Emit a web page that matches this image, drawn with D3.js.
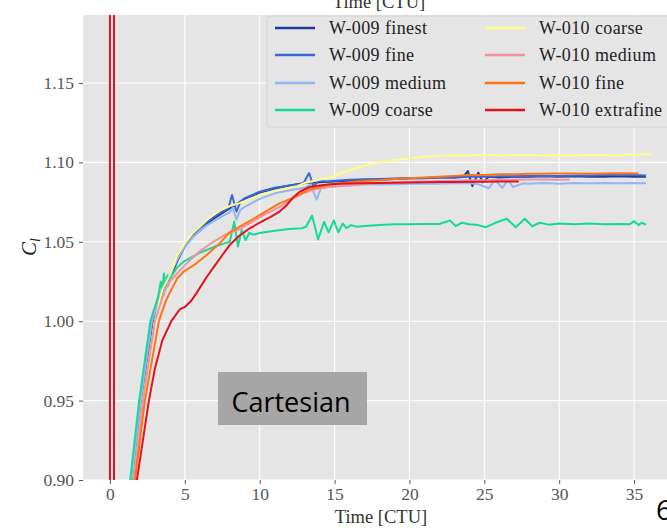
<!DOCTYPE html>
<html>
<head>
<meta charset="utf-8">
<script src="https://cdn.jsdelivr.net/npm/d3@7"></script>
<style>
  html, body { margin: 0; padding: 0; background: #ffffff; }
  svg { display: block; }
  .serif { font-family: "Liberation Serif", "DejaVu Serif", "Times New Roman", Times, serif; }
  .sans { font-family: "Open Sans", "Noto Sans", sans-serif; }
</style>
</head>
<body>
<svg id="chart" width="667" height="528"></svg>
<script>
// Lift coefficient histories, [time (CTU), Cl]
const w009Finest = [[1.5,0.90],[2.1,0.95],[2.85,1.00],[3.5,1.018],[4.0,1.027],[4.5,1.038],[5.0,1.047],[5.5,1.053],[6.0,1.057],[6.5,1.061],[7.0,1.065],[7.5,1.068],[8.0,1.071],[8.5,1.074],[9,1.077],[10,1.081],[11,1.0835],[12,1.0855],[13,1.087],[14,1.0875],[15,1.088],[16,1.0885],[17,1.089],[18,1.089],[19,1.0895],[20,1.090],[21,1.090],[22,1.0905],[23,1.0905],[23.6,1.091],[23.9,1.0945],[24.2,1.085],[24.6,1.0935],[24.9,1.0875],[25.3,1.091],[26,1.0905],[27,1.091],[28,1.091],[29,1.0912],[30,1.091],[31,1.0912],[32,1.091],[33,1.091],[34,1.0912],[35,1.091],[35.8,1.091]];
const w009Fine = [[1.5,0.90],[2.1,0.95],[2.85,1.00],[3.5,1.019],[4.0,1.029],[4.5,1.04],[5.0,1.048],[5.5,1.054],[6.0,1.0585],[6.5,1.0625],[7.0,1.066],[7.5,1.069],[7.9,1.071],[8.15,1.0795],[8.45,1.069],[8.7,1.075],[9,1.0775],[10,1.0815],[11,1.084],[12,1.0855],[12.9,1.0865],[13.3,1.0933],[13.6,1.0845],[13.9,1.0885],[14.5,1.088],[15,1.0885],[16,1.089],[17,1.0893],[18,1.0895],[19,1.0898],[20,1.090],[21,1.0902],[22,1.0905],[23,1.0905],[24,1.091],[25,1.091],[26,1.0912],[27,1.0912],[28,1.0915],[29,1.0915],[30,1.0915],[31,1.0917],[32,1.0917],[33,1.092],[34,1.092],[35,1.092],[35.8,1.0918]];
const w009Medium = [[1.45,0.90],[2.05,0.95],[2.8,1.00],[3.3,1.015],[3.5,1.024],[3.6,1.016],[3.75,1.028],[3.9,1.022],[4.1,1.031],[4.5,1.039],[5.0,1.047],[5.5,1.0525],[6.0,1.057],[6.5,1.0605],[7.0,1.0635],[7.5,1.066],[8.0,1.0685],[8.2,1.0715],[8.45,1.064],[8.7,1.070],[9,1.072],[10,1.077],[11,1.0805],[12,1.0825],[13,1.084],[13.4,1.086],[13.8,1.0765],[14.1,1.084],[15,1.085],[16,1.0855],[17,1.086],[18,1.086],[19,1.0862],[20,1.0865],[21,1.0865],[22,1.0865],[23,1.0868],[24,1.0868],[24.6,1.0862],[25.3,1.0837],[25.7,1.089],[26.2,1.084],[26.6,1.089],[26.9,1.0845],[27.6,1.0868],[28,1.0865],[29,1.087],[30,1.0865],[31,1.087],[32,1.0868],[33,1.087],[34,1.0868],[35,1.087],[35.8,1.0868]];
const w009Coarse = [[1.35,0.90],[1.95,0.95],[2.7,1.00],[3.2,1.015],[3.4,1.025],[3.5,1.018],[3.6,1.030],[3.7,1.021],[3.85,1.029],[4.0,1.027],[4.5,1.034],[5.0,1.038],[5.5,1.0405],[6.0,1.043],[6.5,1.045],[7.0,1.047],[7.5,1.0485],[8.0,1.050],[8.3,1.0627],[8.55,1.047],[8.8,1.0575],[9.05,1.051],[9.3,1.0555],[9.6,1.0545],[10,1.0555],[11,1.057],[12,1.058],[12.8,1.0585],[13.1,1.0595],[13.5,1.0665],[13.9,1.0515],[14.3,1.0625],[14.6,1.056],[14.95,1.0635],[15.25,1.056],[15.55,1.0615],[15.8,1.0585],[16.1,1.0605],[16.5,1.0595],[17,1.060],[18,1.0605],[19,1.061],[20,1.061],[21,1.0612],[22,1.0612],[22.7,1.0635],[23.1,1.0598],[23.5,1.062],[24,1.061],[24.6,1.0605],[25.1,1.0592],[25.7,1.0618],[26.5,1.0645],[27.1,1.0592],[27.7,1.0645],[28.2,1.0598],[28.7,1.062],[29.3,1.0608],[30,1.0615],[31,1.061],[32,1.0615],[33,1.061],[34,1.0612],[34.7,1.061],[35.0,1.063],[35.3,1.0605],[35.5,1.062],[35.8,1.0608]];
const w010Coarse = [[1.6,0.90],[2.2,0.95],[3.0,1.00],[3.5,1.02],[4.0,1.029],[4.5,1.0415],[5.0,1.049],[5.5,1.055],[6.0,1.0595],[6.5,1.064],[7.0,1.0675],[7.5,1.0705],[8.0,1.0725],[8.7,1.0745],[9.5,1.0775],[10.2,1.080],[11,1.082],[12,1.084],[12.5,1.085],[13,1.087],[14,1.089],[14.7,1.0905],[15.5,1.0935],[16,1.095],[17,1.098],[18,1.100],[19,1.1015],[20,1.1025],[21,1.1035],[22,1.104],[23,1.1045],[24,1.1043],[25,1.1047],[26,1.1043],[27,1.1045],[28,1.1047],[29,1.1043],[30,1.1045],[31,1.1043],[32,1.1047],[33,1.1045],[34,1.1042],[34.5,1.1052],[35,1.1045],[35.5,1.1052],[36.2,1.105]];
const w010Medium = [[1.6,0.90],[2.2,0.95],[3.0,1.00],[3.6,1.018],[4.0,1.025],[4.67,1.032],[5.3,1.038],[6.0,1.044],[6.9,1.050],[7.7,1.0545],[8.67,1.058],[9.5,1.0625],[10.3,1.067],[11.33,1.072],[12.1,1.0765],[12.9,1.0805],[13.7,1.083],[14.6,1.0845],[15.8,1.0855],[17,1.0864],[18,1.087],[19,1.0875],[20,1.0878],[21,1.088],[22,1.0883],[23,1.0885],[24,1.0887],[25,1.0888],[26,1.089],[27,1.089],[28,1.0892],[29,1.0892],[30,1.089],[30.7,1.0892]];
const w010Fine = [[1.67,0.90],[2.33,0.95],[3.27,1.00],[3.7,1.012],[4.0,1.018],[4.5,1.027],[4.9,1.031],[5.8,1.0366],[6.5,1.042],[7.33,1.049],[8.0,1.056],[8.67,1.0595],[9.5,1.064],[10.3,1.0685],[11.33,1.0742],[12.3,1.078],[13.33,1.083],[14.5,1.0855],[15.5,1.087],[16.5,1.088],[18,1.0888],[19,1.0895],[20,1.090],[21,1.0905],[22,1.091],[23,1.0915],[24,1.092],[25,1.092],[26,1.0925],[27,1.0925],[28,1.0928],[29,1.0928],[30,1.093],[31,1.093],[32,1.0928],[33,1.093],[34,1.0932],[35,1.093],[35.3,1.093]];
const w010Extrafine = [[0,0.5],[0,2.0],[0.27,2.0],[0.27,0.5],[1.8,0.90],[2.6,0.95],[3.0,0.97],[3.5,0.988],[4.1,1.00],[4.67,1.0075],[5.0,1.009],[5.4,1.0125],[5.8,1.018],[6.47,1.028],[7.0,1.035],[7.5,1.0415],[8.0,1.048],[8.6,1.0535],[9.33,1.0585],[10,1.062],[10.7,1.0655],[11.33,1.069],[11.8,1.073],[12.2,1.0775],[12.67,1.0815],[13.33,1.0845],[14,1.0855],[14.67,1.0862],[15.5,1.0866],[16.5,1.0868],[18,1.087],[19,1.0872],[20,1.0874],[21,1.0875],[22,1.0876],[23,1.0877],[24,1.0878],[25,1.0878],[26,1.088],[27.3,1.088]];

const seriesNames = ["W-009 finest","W-009 fine","W-009 medium","W-009 coarse","W-010 coarse","W-010 medium","W-010 fine","W-010 extrafine"];
const seriesData = [w009Finest, w009Fine, w009Medium, w009Coarse, w010Coarse, w010Medium, w010Fine, w010Extrafine];
const seriesColors = ["#1d3b9b","#3b67d8","#93b5f5","#17d89c","#fdfd88","#f4929c","#ff7414","#e2121f"];

const xTicks = [0,5,10,15,20,25,30,35];
const yTicks = [0.90,0.95,1.00,1.05,1.10,1.15];

const svg = d3.select("#chart");
const margin = {left: 83, top: 15, right: 676, bottom: 480};

const x = d3.scaleLinear().domain([-1.8, 37.8]).range([margin.left, margin.right]);
const y = d3.scaleLinear().domain([0.90, 1.1928]).range([margin.bottom, margin.top]);

// Plot panel background
svg.append("rect")
  .attr("x", margin.left).attr("y", margin.top)
  .attr("width", margin.right - margin.left)
  .attr("height", margin.bottom - margin.top)
  .attr("fill", "#e5e5e5");

svg.append("defs").append("clipPath").attr("id", "plotClip")
  .append("rect")
  .attr("x", margin.left).attr("y", margin.top)
  .attr("width", margin.right - margin.left)
  .attr("height", margin.bottom - margin.top);

// Grid
const grid = svg.append("g");
grid.selectAll(".gx").data(xTicks).enter().append("line")
  .attr("x1", d => x(d)).attr("x2", d => x(d))
  .attr("y1", margin.top).attr("y2", margin.bottom)
  .attr("stroke", "#ffffff").attr("stroke-width", 1.1);
grid.selectAll(".gy").data(yTicks).enter().append("line")
  .attr("x1", margin.left).attr("x2", margin.right)
  .attr("y1", d => y(d)).attr("y2", d => y(d))
  .attr("stroke", "#ffffff").attr("stroke-width", 1.1);

// Axes
const xAxis = svg.append("g")
  .attr("transform", `translate(0,${margin.bottom})`)
  .call(d3.axisBottom(x).tickValues(xTicks).tickFormat(d3.format("d")).tickSize(4).tickPadding(4));
const yAxis = svg.append("g")
  .attr("transform", `translate(${margin.left},0)`)
  .call(d3.axisLeft(y).tickValues(yTicks).tickFormat(d3.format(".2f")).tickSize(4).tickPadding(5));
[xAxis, yAxis].forEach(a => {
  a.attr("font-family", null).attr("font-size", null);
  a.select(".domain").remove();
  a.selectAll(".tick line").attr("stroke", "#555555");
  a.selectAll(".tick text").attr("fill", "#555555")
    .attr("class", "serif").style("font-size", "17.5px");
});

// Lines
const line = d3.line().x(d => x(d[0])).y(d => y(d[1]));
svg.append("g").attr("clip-path", "url(#plotClip)")
  .selectAll("path").data(seriesData).enter().append("path")
  .attr("d", line)
  .attr("fill", "none")
  .attr("stroke", (d, i) => seriesColors[i])
  .attr("stroke-width", 2)
  .attr("stroke-linejoin", "round");

// Axis labels
svg.append("text").attr("class", "serif")
  .attr("x", 381).attr("y", 523)
  .attr("text-anchor", "middle")
  .attr("fill", "#333333")
  .style("font-size", "18.5px")
  .text("Time [CTU]");
svg.append("text").attr("class", "serif")
  .attr("x", 379).attr("y", 8)
  .attr("text-anchor", "middle")
  .attr("fill", "#333333")
  .style("font-size", "18.5px")
  .text("Time [CTU]");
const yl = svg.append("text").attr("class", "serif")
  .attr("transform", "translate(36,247) rotate(-90)")
  .attr("text-anchor", "middle")
  .attr("fill", "#222222")
  .style("font-size", "21px");
yl.append("tspan").style("font-style", "italic").text("C");
yl.append("tspan").attr("dy", 4).style("font-style", "italic").style("font-size", "14px").text("l");

// Legend
const legend = svg.append("g");
legend.append("rect")
  .attr("x", 267).attr("y", 16).attr("width", 420).attr("height", 111)
  .attr("rx", 3)
  .attr("fill", "#e5e5e5").attr("stroke", "#d2d2d2").attr("stroke-width", 1);
const rowY = [28, 55, 83, 110];
const colX = [275, 485];
seriesNames.forEach((name, i) => {
  const cx = colX[Math.floor(i / 4)];
  const cy = rowY[i % 4];
  legend.append("line")
    .attr("x1", cx).attr("x2", cx + 40)
    .attr("y1", cy).attr("y2", cy)
    .attr("stroke", seriesColors[i]).attr("stroke-width", 2.5);
  legend.append("text").attr("class", "serif")
    .attr("x", cx + 54).attr("y", cy + 6)
    .attr("fill", "#222222")
    .style("font-size", "18px")
    .style("letter-spacing", "0.4px")
    .text(name);
});

// Mesh label
svg.append("rect")
  .attr("x", 218).attr("y", 372).attr("width", 149).attr("height", 53)
  .attr("fill", "#a6a6a6");
svg.append("text").attr("class", "sans")
  .attr("x", 291).attr("y", 412)
  .attr("text-anchor", "middle")
  .attr("fill", "#000000")
  .style("font-size", "27px")
  .text("Cartesian");

svg.append("text").attr("class", "sans")
  .attr("x", 656).attr("y", 520)
  .attr("fill", "#000000")
  .style("font-size", "28px")
  .text("6");
</script>
</body>
</html>
